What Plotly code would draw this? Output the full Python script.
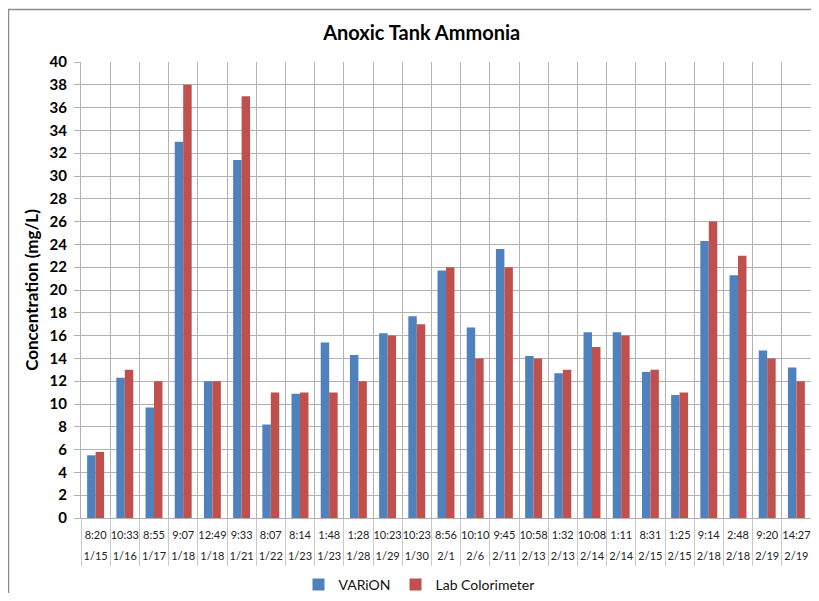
import plotly.graph_objects as go

times = ["8:20", "10:33", "8:55", "9:07", "12:49", "9:33", "8:07", "8:14", "1:48", "1:28",
         "10:23", "10:23", "8:56", "10:10", "9:45", "10:58", "1:32", "10:08", "1:11", "8:31",
         "1:25", "9:14", "2:48", "9:20", "14:27"]
dates = ["1/15", "1/16", "1/17", "1/18", "1/18", "1/21", "1/22", "1/23", "1/23", "1/28",
         "1/29", "1/30", "2/1", "2/6", "2/11", "2/13", "2/13", "2/14", "2/14", "2/15",
         "2/15", "2/18", "2/18", "2/19", "2/19"]
varion = [5.5, 12.3, 9.7, 33.0, 12.0, 31.4, 8.2, 10.9, 15.4, 14.3,
          16.2, 17.7, 21.7, 16.7, 23.6, 14.2, 12.7, 16.3, 16.3, 12.8,
          10.8, 24.3, 21.3, 14.7, 13.2]
lab = [5.8, 13.0, 12.0, 38.0, 12.0, 37.0, 11.0, 11.0, 11.0, 12.0,
       16.0, 17.0, 22.0, 14.0, 22.0, 14.0, 13.0, 15.0, 16.0, 13.0,
       11.0, 26.0, 23.0, 14.0, 12.0]
y_ticks = list(range(0, 41, 2))

keys = [f"{t} {d}" for t, d in zip(times, dates)]
idx = list(range(len(keys)))

FONT = "Lato"
BLUE = "#4F81BD"
RED = "#C0504D"
GRID = "#b2b2b2"

W, H = 803, 585
L, T = 73, 54
PLOT_W, PLOT_H = 730, 456

fig = go.Figure()
fig.add_trace(go.Bar(x=keys, y=varion, name="VARiON", marker_color=BLUE, marker_line_width=0))
fig.add_trace(go.Bar(x=keys, y=lab, name="Lab Colorimeter", marker_color=RED, marker_line_width=0))
# invisible helper traces so the label-only axes (times row / dates row) get drawn
for ax in ("x2", "x3"):
    fig.add_trace(go.Scatter(x=idx, y=varion, xaxis=ax, yaxis="y", mode="markers",
                             marker=dict(opacity=0), showlegend=False, hoverinfo="skip"))

rng = [-0.5, len(keys) - 0.5]
label_axis = dict(type="linear", range=rng, overlaying="x", anchor="y", side="bottom",
                  tickmode="array", tickvals=idx, ticks="", tickangle=0,
                  showgrid=False, showline=False, zeroline=False)
fig.update_layout(
    width=W, height=H,
    margin=dict(l=L, r=W - L - PLOT_W, t=T, b=H - T - PLOT_H),
    paper_bgcolor="white", plot_bgcolor="white",
    barmode="group", bargap=0.42, bargroupgap=0,
    font=dict(family=FONT, color="#000"),
    hovermode=False,
    title=dict(text="Anoxic Tank Ammonia", x=413.7 / W, xref="container", xanchor="center",
               y=1 - 25 / H, yref="container", yanchor="middle",
               font=dict(size=20, family=FONT, weight="bold", color="#000")),
    xaxis=dict(type="category", categoryorder="array", categoryarray=keys, range=rng,
               tickson="boundaries", ticks="outside", ticklen=47, tickcolor="#c8c8c8", tickwidth=1,
               showgrid=True, gridcolor=GRID, gridwidth=1,
               showline=True, linecolor=GRID, showticklabels=False),
    xaxis2=dict(**label_axis, ticktext=times, ticklabelstandoff=9,
                tickfont=dict(size=11, family=FONT, color="#222")),
    xaxis3=dict(**label_axis, ticktext=dates, ticklabelstandoff=30,
                tickfont=dict(size=11, family=FONT, color="#222")),
    yaxis=dict(range=[0, 40], tickmode="array", tickvals=y_ticks,
               ticks="outside", ticklen=6, tickcolor=GRID,
               showgrid=True, gridcolor=GRID, gridwidth=1,
               showline=True, linecolor=GRID, zeroline=False,
               tickfont=dict(size=15, family=FONT, weight="bold", color="#000"),
               ticklabelstandoff=4,
               title=dict(text="Concentration (mg/L)", standoff=6,
                          font=dict(size=17, family=FONT, weight="bold", color="#000"))),
    legend=dict(orientation="h", x=411 / W, xref="container", xanchor="center",
                y=1 - 577 / H, yref="container", yanchor="middle",
                font=dict(size=14, family=FONT, color="#111"),
                itemwidth=30, traceorder="normal"),
    shapes=[dict(type="rect", xref="paper", yref="paper",
                 x0=(0.5 - L) / PLOT_W, x1=1.5, y0=-0.5, y1=(T + PLOT_H - 1.5) / PLOT_H,
                 line=dict(color="#8c8c8c", width=1.5), layer="below")],
)
fig.update_yaxes(automargin=False)
fig.update_xaxes(automargin=False)

fig.write_html("out.html")
